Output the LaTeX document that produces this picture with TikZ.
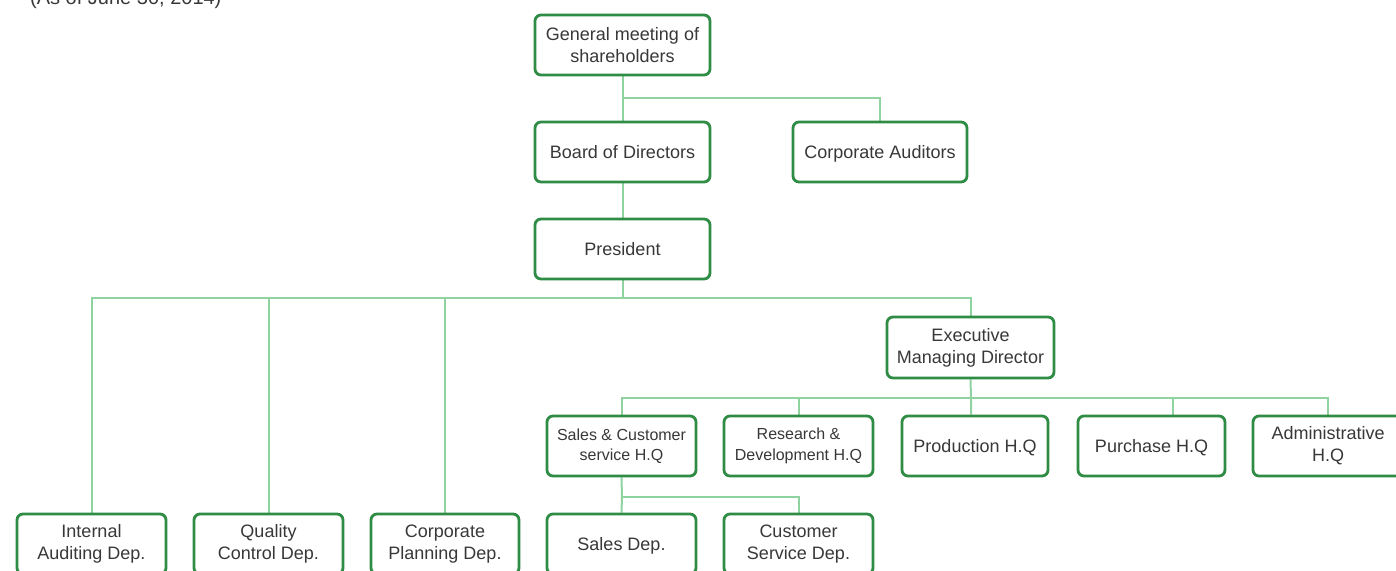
\documentclass[tikz,border=0pt]{standalone}
\usepackage{fontspec}
\setmainfont{Liberation Sans}
\usetikzlibrary{backgrounds}
\definecolor{boxgreen}{HTML}{2E8C45}
\definecolor{linegreen}{HTML}{8ED3A0}
\definecolor{txt}{HTML}{383838}
\tikzset{
  orgbox/.style={draw=boxgreen, line width=2.8pt, rounded corners=6pt, fill=white,
    minimum height=60pt, inner sep=2pt, align=center, text=txt,
    font=\fontsize{18}{22}\selectfont},
  oneline/.style={text height=13pt, text depth=0pt},
  smalltext/.style={font=\fontsize{16}{20.5}\selectfont},
  conn/.style={draw=linegreen, line width=2pt},
}
\begin{document}
\begin{tikzpicture}[x=1pt,y=-1pt]
\useasboundingbox (0,0) rectangle (1396,570);
\node[anchor=base west, text=txt, font=\fontsize{20}{24}\selectfont, inner sep=0pt] (asof) at (30,5) {(As of June 30, 2014)};

\coordinate (j1) at (622.5,98);
\coordinate (j2) at (622.5,298);
\coordinate (j3) at (971,398);
\coordinate (j4) at (622,497);
\coordinate (pq) at (1173,398);

% boxes
\node[orgbox, minimum width=175pt] (gm) at (622.5,45) {General meeting of\\shareholders};
\node[orgbox, oneline, minimum width=175pt] (bod) at (622.5,152) {Board of Directors};
\node[orgbox, oneline, minimum width=174pt] (ca) at (880,152) {Corporate Auditors};
\node[orgbox, oneline, minimum width=175pt] (pres) at (622.5,249) {President};
\node[orgbox, minimum width=167pt, minimum height=61pt] (exec) at (970.5,347.5) {Executive\\Managing Director};

\node[orgbox, smalltext, minimum width=149pt] (sc) at (621.5,446) {Sales \& Customer\\service H.Q};
\node[orgbox, smalltext, minimum width=149pt] (rd) at (798.5,446) {Research \&\\Development H.Q};
\node[orgbox, oneline, minimum width=146pt] (prod) at (975,446) {Production H.Q};
\node[orgbox, oneline, minimum width=147pt] (purch) at (1151.5,446) {Purchase H.Q};
\node[orgbox, minimum width=150pt] (admin) at (1328,446) {Administrative\\H.Q};

\node[orgbox, minimum width=149pt] (iad) at (91.5,544) {Internal\\Auditing Dep.};
\node[orgbox, minimum width=149pt] (qcd) at (268.5,544) {Quality\\Control Dep.};
\node[orgbox, minimum width=148pt] (cpd) at (445,544) {Corporate\\Planning Dep.};
\node[orgbox, oneline, minimum width=149pt] (sd) at (621.5,544) {Sales Dep.};
\node[orgbox, minimum width=149pt] (csd) at (798.5,544) {Customer\\Service Dep.};

% connectors
\begin{scope}[on background layer]
\draw[conn] (gm.south) -- (bod.north);
\draw[conn] (j1) -| (ca.north);
\draw[conn] (bod.south) -- (pres.north);
\draw[conn] (pres.south) -- (j2);
\draw[conn] (iad.north) |- (j2) -| (exec.north);
\draw[conn] (j2 -| qcd.north) -- (qcd.north);
\draw[conn] (j2 -| cpd.north) -- (cpd.north);
\draw[conn] (exec.south) -- (j3) -- (j3 |- prod.north);
\draw[conn] (sc.north) |- (j3) -| (admin.north);
\draw[conn] (j3 -| rd.north) -- (rd.north);
\draw[conn] (pq) -- (pq |- purch.north);
\draw[conn] (sc.south) -- (j4) -- (sd.north);
\draw[conn] (j4) -| (csd.north);
\end{scope}
\end{tikzpicture}
\end{document}
